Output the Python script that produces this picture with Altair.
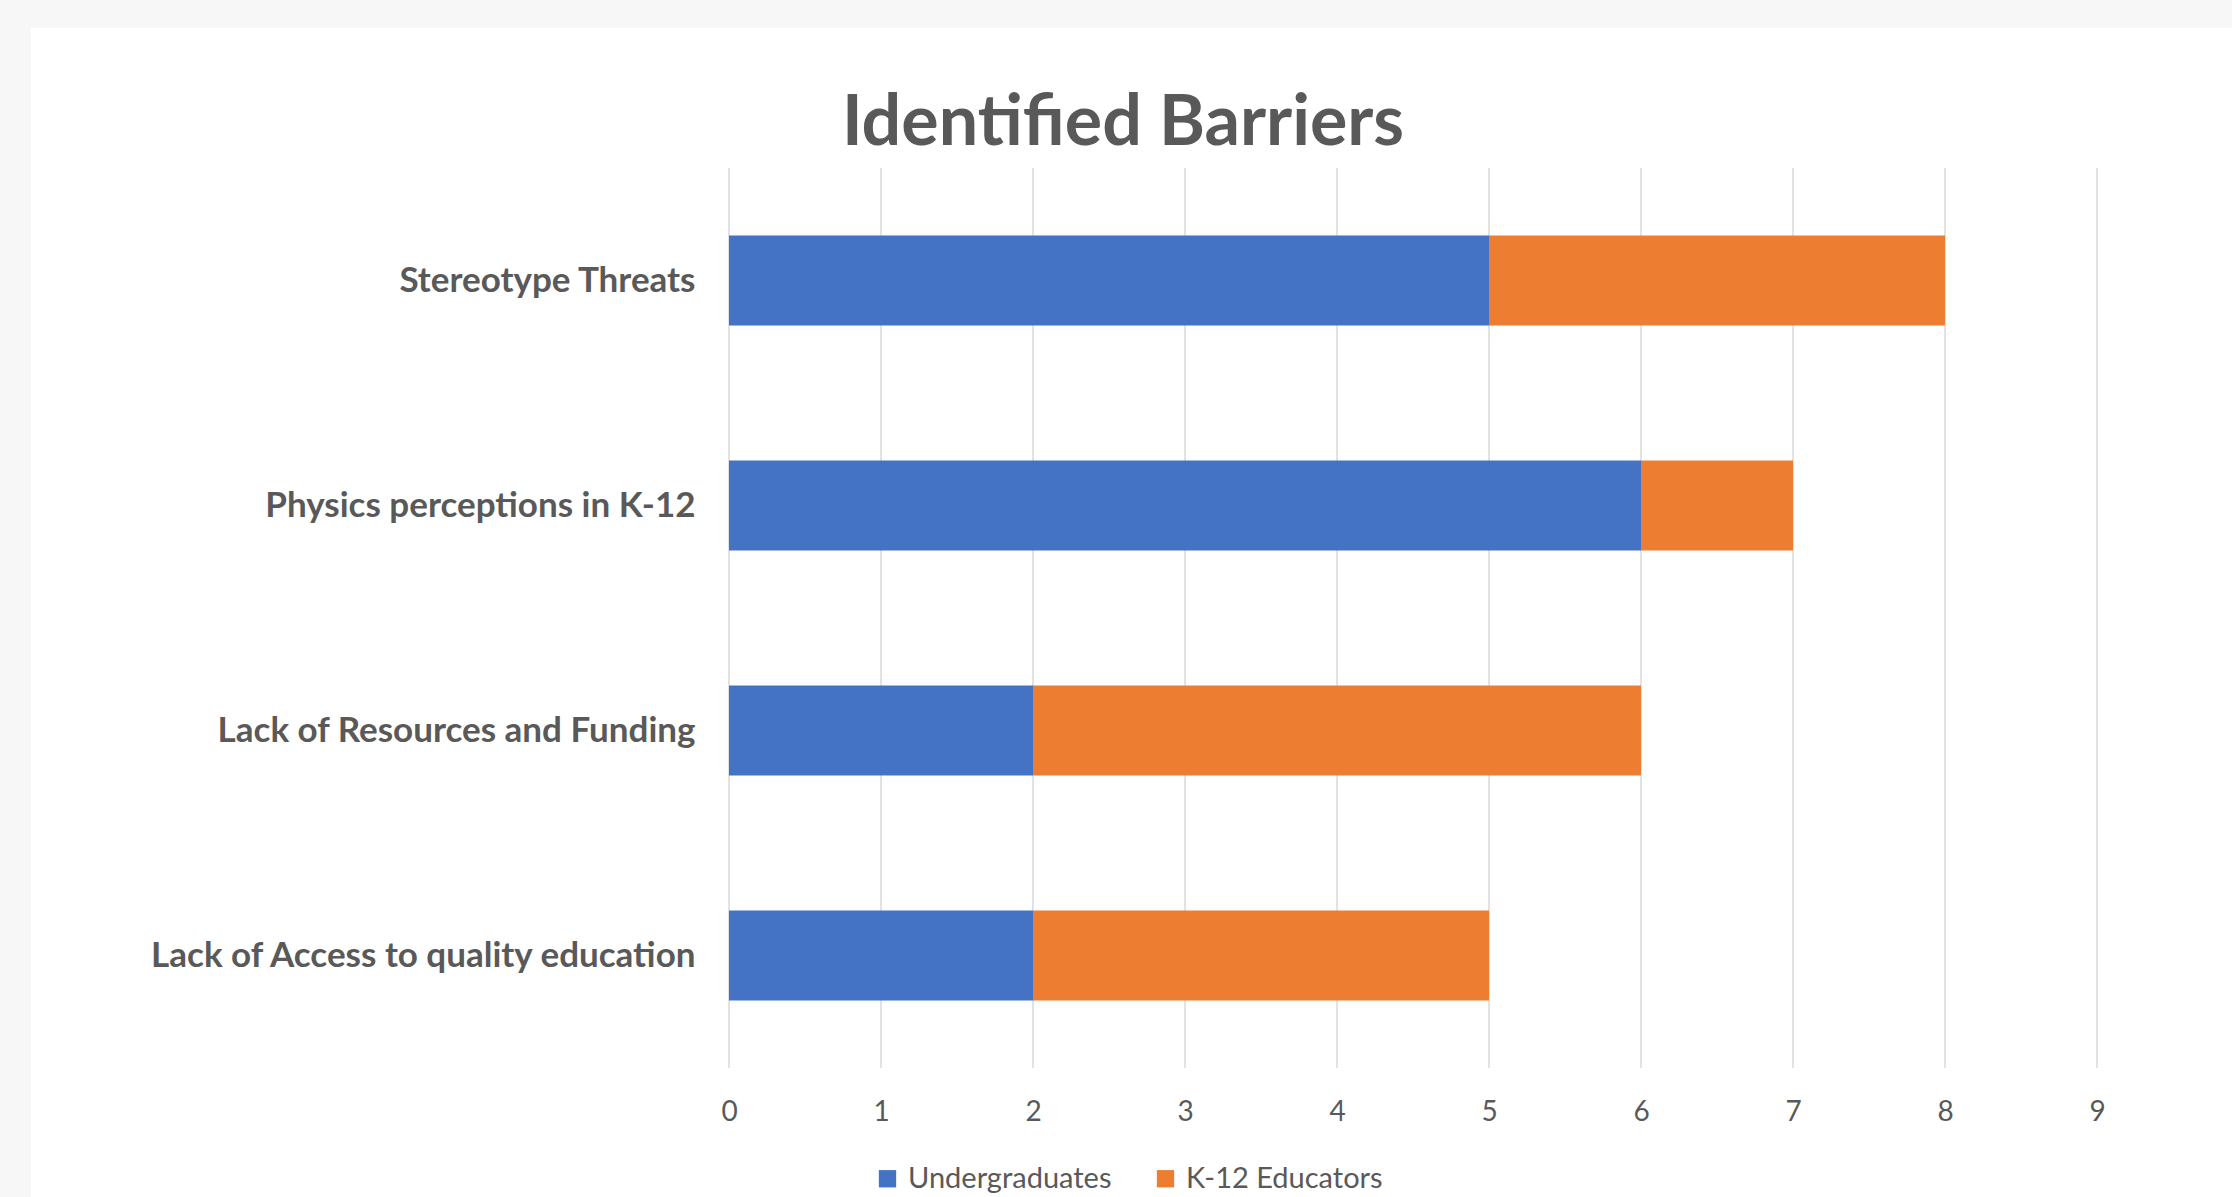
import altair as alt
import pandas as pd

categories = [
    "Stereotype Threats",
    "Physics perceptions in K-12",
    "Lack of Resources and Funding",
    "Lack of Access to quality education",
]
undergraduates = [5, 6, 2, 2]
k12_educators = [3, 1, 4, 3]
series = ["Undergraduates", "K-12 Educators"]
colors = ["#4472C4", "#ED7D31"]
x_ticks = [0, 1, 2, 3, 4, 5, 6, 7, 8, 9]

rows = []
for c, u, k in zip(categories, undergraduates, k12_educators):
    rows.append({"cat": c, "series": series[0], "order": 0, "value": u})
    rows.append({"cat": c, "series": series[1], "order": 1, "value": k})
df = pd.DataFrame(rows)
ticks_df = pd.DataFrame({"tick": x_ticks})
bg_df = pd.DataFrame({"a": [0]})

FONT = "Lato"
TXT = "#595959"

bg = alt.Chart(bg_df).mark_rect(color="white").encode(
    x=alt.value(-698), x2=alt.value(1600), y=alt.value(-140), y2=alt.value(1100)
)

grid = alt.Chart(ticks_df).mark_rule(color="#d9d9d9", strokeWidth=1.5).encode(
    x=alt.X("tick:Q", scale=alt.Scale(domain=[0, 9], nice=False)),
    y=alt.value(0),
    y2=alt.value(900),
)

bars = alt.Chart(df).mark_bar().encode(
    y=alt.Y(
        "cat:N",
        sort=categories,
        title=None,
        scale=alt.Scale(paddingInner=0.6, paddingOuter=0.3),
        axis=alt.Axis(
            domain=False, ticks=False, grid=False, labelFont=FONT, labelFontSize=35,
            labelFontWeight="bold", labelColor=TXT, labelPadding=34, labelLimit=800,
            zindex=2,
        ),
    ),
    x=alt.X(
        "value:Q",
        stack="zero",
        title=None,
        scale=alt.Scale(domain=[0, 9], nice=False),
        axis=alt.Axis(
            values=x_ticks, domain=False, ticks=False, grid=False, labelFont=FONT,
            labelFontSize=28, labelColor=TXT, labelPadding=30, format="d", zindex=2,
            labelFlush=False,
        ),
    ),
    color=alt.Color(
        "series:N",
        scale=alt.Scale(domain=series, range=colors),
        legend=alt.Legend(
            title=None, orient="none", legendX=144, legendY=996, direction="horizontal",
            symbolType="square", symbolSize=300, symbolStrokeWidth=0,
            labelFont=FONT, labelFontSize=29, labelColor=TXT, columnPadding=39,
            labelOffset=6, labelLimit=500,
        ),
    ),
    order=alt.Order("order:Q"),
)

chart = alt.layer(bg, grid, bars).properties(
    width=1368,
    height=900,
    title=alt.TitleParams(
        "Identified Barriers", font=FONT, fontSize=70, fontWeight="bold", color=TXT,
        anchor="middle", dx=-290, offset=-187, baseline="alphabetic",
    ),
    autosize=alt.AutoSizeParams(type="none"),
    padding={"left": 729, "top": 168, "right": 135, "bottom": 129},
).configure(background="#f7f7f7").configure_view(stroke=None)

chart.save("out.html", embed_options={"renderer": "svg", "actions": False})
